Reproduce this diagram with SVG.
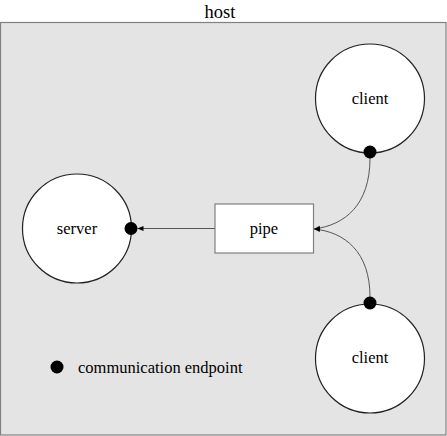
<svg xmlns="http://www.w3.org/2000/svg" width="447" height="436" viewBox="0 0 447 436" font-family="'Liberation Serif', 'Times New Roman', Times, serif">
<defs>
<style>
text{fill:#000;text-anchor:middle}
.node{fill:#fff;stroke:#222;stroke-width:1.2}
.ep{fill:#000}
.conn{fill:none;stroke:#555;stroke-width:1}
</style>
<marker id="arr" viewBox="0 0 10 10" refX="10" refY="5" markerWidth="6" markerHeight="6" markerUnits="userSpaceOnUse" orient="auto">
<path d="M0,1 L10,5 L0,9 Z" fill="#000"/>
</marker>
</defs>
<g id="host">
<rect x="0.5" y="22.5" width="445.5" height="412.5" fill="#e4e4e4" stroke="#808080" stroke-width="1.2"/>
<text x="220" y="17.5" font-size="18.5" font-family="Liberation Serif, serif">host</text>
</g>
<g id="connectors">
<path class="conn" d="M215,228.5 L137.5,228.5" marker-end="url(#arr)"/>
<path class="conn" d="M370,158 C370,205 345,225 314,229" marker-end="url(#arr)"/>
<path class="conn" d="M370,297 C370,252 345,232 314,229" marker-end="url(#arr)"/>
</g>
<g id="server">
<circle class="node" cx="77" cy="228.5" r="54.5"/>
<text x="77" y="234" font-size="16.5" font-family="Liberation Serif, serif">server</text>
<circle class="ep" cx="131" cy="228.5" r="6.5"/>
</g>
<g id="client-top">
<circle class="node" cx="370" cy="98.5" r="54.5"/>
<text x="370" y="104" font-size="16.5" font-family="Liberation Serif, serif">client</text>
<circle class="ep" cx="370" cy="152" r="6.5"/>
</g>
<g id="client-bottom">
<circle class="node" cx="370" cy="358.5" r="54.5"/>
<text x="370" y="363" font-size="16.5" font-family="Liberation Serif, serif">client</text>
<circle class="ep" cx="370" cy="303" r="6.5"/>
</g>
<g id="pipe">
<rect x="215" y="204" width="98.5" height="49" fill="#fff" stroke="#808080" stroke-width="1.2"/>
<text x="264" y="234" font-size="16.5" font-family="Liberation Serif, serif">pipe</text>
</g>
<g id="legend">
<circle class="ep" cx="57" cy="367" r="6.5"/>
<text x="78" y="372.5" font-size="16.5" font-family="Liberation Serif, serif" style="text-anchor:start">communication endpoint</text>
</g>
</svg>
